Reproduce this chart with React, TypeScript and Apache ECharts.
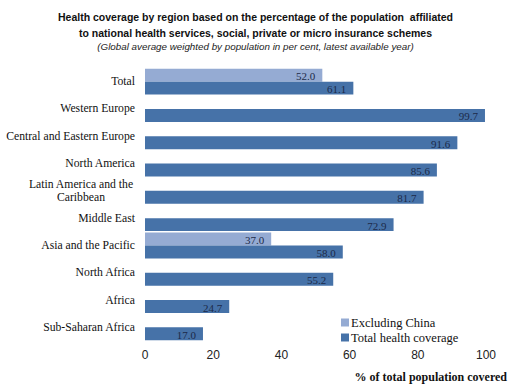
import React, { useEffect, useRef } from "react";
import * as echarts from "echarts";

const categories = [
  "Total",
  "Western Europe",
  "Central and Eastern Europe",
  "North America",
  "Latin America and the\nCaribbean",
  "Middle East",
  "Asia and the Pacific",
  "North Africa",
  "Africa",
  "Sub-Saharan Africa",
];
const excludingChina: (number | null)[] = [52.0, null, null, null, null, null, 37.0, null, null, null];
const totalCoverage = [61.1, 99.7, 91.6, 85.6, 81.7, 72.9, 58.0, 55.2, 24.7, 17.0];
const xTicks = [0, 20, 40, 60, 80, 100];

const SERIF = "'Liberation Serif', 'DejaVu Serif', serif";
const SANS = "'Liberation Sans', Arial, sans-serif";

export default function App() {
  const ref = useRef<HTMLDivElement>(null);
  useEffect(() => {
    if (!ref.current) return;
    const chart = echarts.init(ref.current, null, { renderer: "svg" });
    const labelStyle = {
      show: true,
      position: "insideRight" as const,
      distance: 7,
      offset: [0, 1],
      color: "#1c2a48",
      fontFamily: SERIF,
      fontSize: 11,
      formatter: (p: any) => (p.value == null ? "" : Number(p.value).toFixed(1)),
    };
    chart.setOption({
      animation: false,
      backgroundColor: "#ffffff",
      graphic: [
        {
          type: "text",
          left: "center",
          top: 11,
          style: {
            text: "Health coverage by region based on the percentage of the population  affiliated",
            fontFamily: SANS,
            fontWeight: "bold",
            fontSize: 10.5,
            fill: "#111",
          },
        },
        {
          type: "text",
          left: "center",
          top: 27,
          style: {
            text: "to national health services, social, private or micro insurance schemes",
            fontFamily: SANS,
            fontWeight: "bold",
            fontSize: 10.5,
            fill: "#111",
          },
        },
        {
          type: "text",
          left: "center",
          top: 41,
          style: {
            text: "(Global average weighted by population in per cent, latest available year)",
            fontFamily: SANS,
            fontStyle: "italic",
            fontSize: 9.8,
            fill: "#222",
          },
        },
        {
          type: "text",
          right: 4,
          top: 371,
          style: {
            text: "% of total population covered",
            fontFamily: SERIF,
            fontWeight: "bold",
            fontSize: 12,
            fill: "#111",
          },
        },
      ],
      legend: {
        orient: "vertical",
        left: 336,
        top: 311,
        itemWidth: 8,
        itemHeight: 8,
        itemGap: 2,
        icon: "rect",
        textStyle: { fontFamily: SERIF, fontSize: 12.5, color: "#111", padding: [0, 0, 0, -3] },
        data: ["Excluding China", "Total health coverage"],
      },
      grid: { left: 145, right: 25, top: 68, bottom: 50, containLabel: false },
      xAxis: {
        type: "value",
        min: 0,
        max: 100,
        interval: 20,
        axisLine: { show: false },
        axisTick: { show: false },
        splitLine: { show: false },
        axisLabel: {
          margin: 8,
          fontFamily: SANS,
          fontSize: 12,
          color: "#222",
          formatter: (v: number) => (xTicks.includes(v) ? String(v) : ""),
        },
      },
      yAxis: {
        type: "category",
        inverse: true,
        data: categories,
        axisLine: { show: false },
        axisTick: { show: false },
        axisLabel: {
          margin: 10,
          fontFamily: SERIF,
          fontSize: 11.7,
          color: "#111",
          lineHeight: 13,
          formatter: (v: string) =>
            v.includes("\n")
              ? v
                  .split("\n")
                  .map((s) => "{c|" + s + "}")
                  .join("\n")
              : v,
          rich: {
            c: { width: 108, align: "center", fontFamily: SERIF, fontSize: 11.7, color: "#111", lineHeight: 13 },
          },
        },
      },
      series: [
        {
          name: "Excluding China",
          type: "bar",
          data: excludingChina,
          barGap: "0%",
          barCategoryGap: "5%",
          itemStyle: { color: "#95abd3" },
          label: labelStyle,
        },
        {
          name: "Total health coverage",
          type: "bar",
          data: totalCoverage,
          barGap: "0%",
          barCategoryGap: "5%",
          itemStyle: { color: "#4672a8" },
          label: labelStyle,
        },
      ],
    });
    return () => chart.dispose();
  }, []);
  return <div ref={ref} style={{ width: 511, height: 391, position: "absolute", left: 0, top: 0 }} />;
}
